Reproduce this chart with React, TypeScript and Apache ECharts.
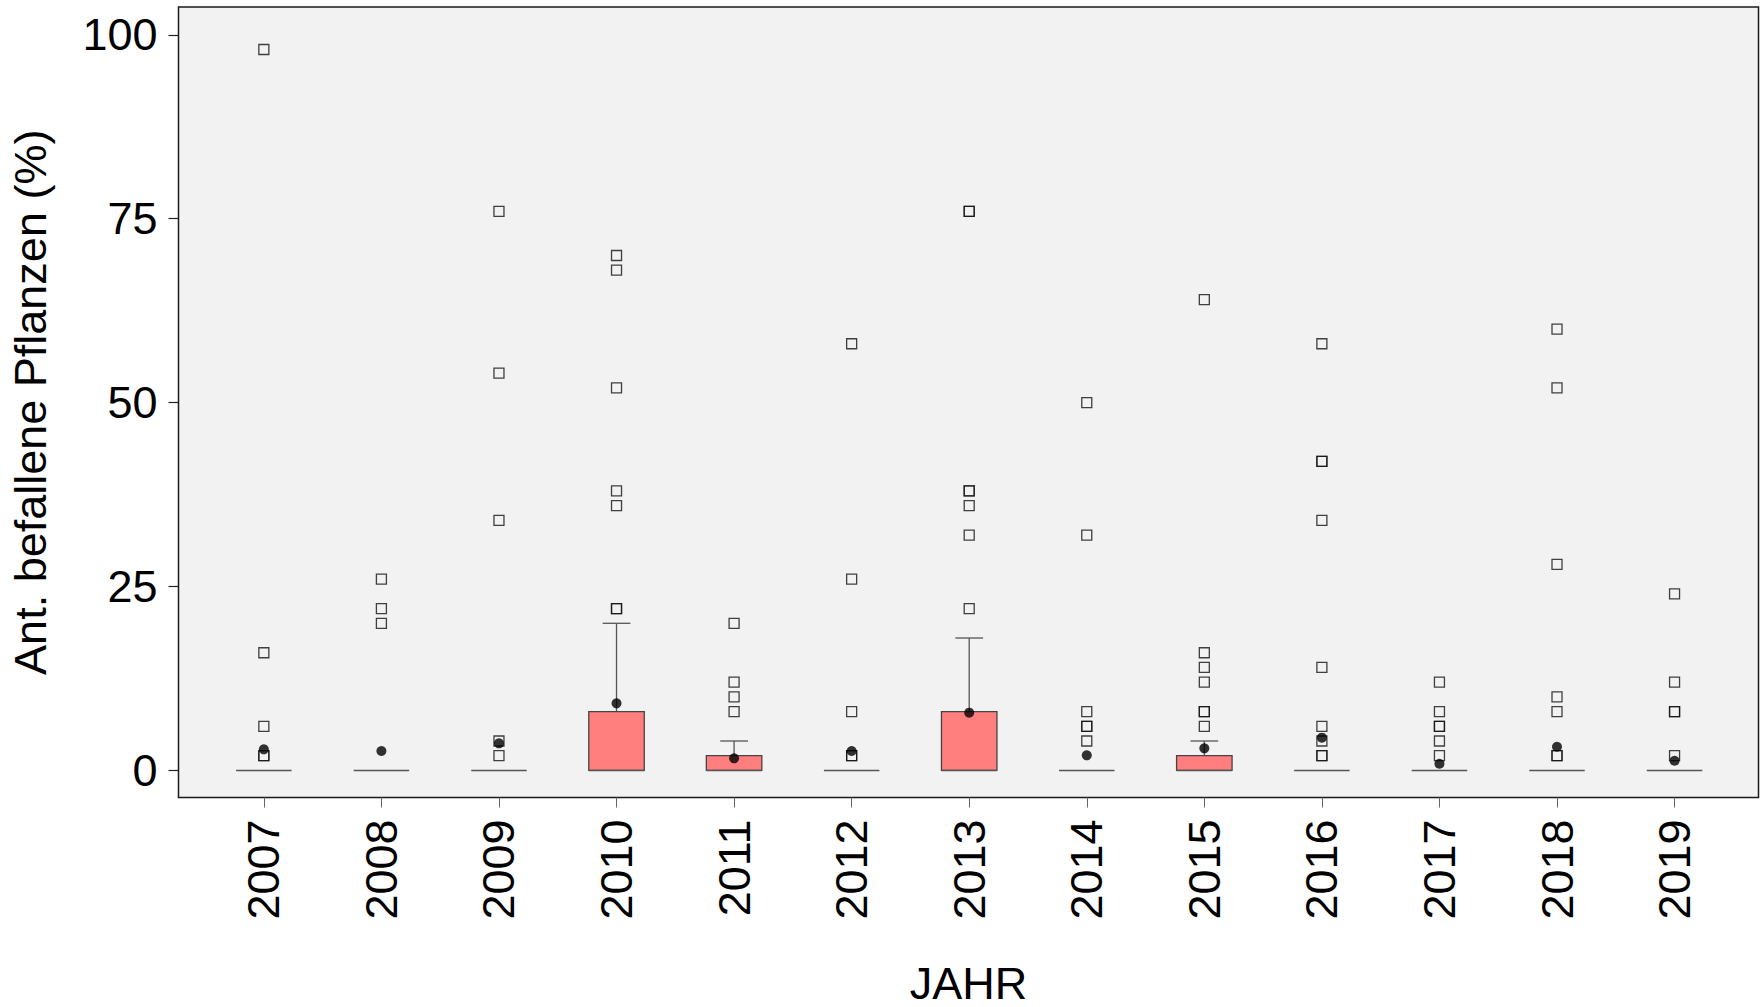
import React, { useEffect, useRef } from "react";
import * as echarts from "echarts";

const YEARS = ["2007", "2008", "2009", "2010", "2011", "2012", "2013", "2014", "2015", "2016", "2017", "2018", "2019"];

// [lower whisker, Q1, median, Q3, upper whisker]
const BOX_STATS: number[][] = [
  [0, 0, 0, 0, 0],
  [0, 0, 0, 0, 0],
  [0, 0, 0, 0, 0],
  [0, 0, 0, 8, 20],
  [0, 0, 0, 2, 4],
  [0, 0, 0, 0, 0],
  [0, 0, 0, 8, 18],
  [0, 0, 0, 0, 0],
  [0, 0, 0, 2, 4],
  [0, 0, 0, 0, 0],
  [0, 0, 0, 0, 0],
  [0, 0, 0, 0, 0],
  [0, 0, 0, 0, 0],
];

const MEANS = [2.87, 2.64, 3.68, 9.12, 1.64, 2.64, 7.85, 2.05, 3.0, 4.45, 0.91, 3.22, 1.32];

const OUTLIERS: number[][] = [
  [98, 16, 6, 2, 2],
  [26, 22, 20],
  [76, 54, 34, 4, 2],
  [70, 68, 52, 38, 36, 22, 22],
  [20, 12, 10, 8],
  [58, 26, 8, 2, 2],
  [76, 76, 38, 38, 36, 32, 22],
  [50, 32, 8, 6, 6, 4],
  [64, 16, 14, 12, 8, 8, 6],
  [58, 42, 42, 34, 14, 6, 4, 2, 2],
  [12, 8, 6, 6, 4, 2],
  [60, 52, 28, 10, 8, 2, 2],
  [24, 12, 8, 8, 2],
];

const Y_TICKS = [0, 25, 50, 75, 100];

const FONT = "'Liberation Sans', Arial, Helvetica, sans-serif";
const BOX_W = 0.472;

export default function App() {
  const ref = useRef<HTMLDivElement>(null);

  useEffect(() => {
    if (!ref.current) return;
    const chart = echarts.init(ref.current, null, { renderer: "svg" });

    const boxData = BOX_STATS.map((s, i) => [i, ...s]);
    const outlierData: number[][] = [];
    OUTLIERS.forEach((arr, i) => arr.forEach((v) => outlierData.push([i, v])));
    const meanData = MEANS.map((m, i) => [i, m]);
    const xIdx = YEARS.map((_, i) => i);

    const option: any = {
      animation: false,
      backgroundColor: "#ffffff",
      grid: {
        left: 178.5,
        top: 7,
        right: 2.5,
        bottom: 209.5,
        outerBoundsMode: "none",
        containLabel: false,
        show: true,
        backgroundColor: "#f2f2f2",
        borderColor: "#1a1a1a",
        borderWidth: 1.5,
      },
      xAxis: {
        type: "value",
        min: -0.726,
        max: 12.714,
        name: "JAHR",
        nameLocation: "middle",
        nameGap: 163,
        nameTextStyle: { fontFamily: FONT, fontSize: 45, lineHeight: 45, color: "#000" },
        axisLine: { show: false, onZero: false },
        splitLine: { show: false },
        axisTick: {
          show: true,
          inside: false,
          length: 10,
          customValues: xIdx,
          lineStyle: { color: "#666", width: 1 },
        },
        axisLabel: {
          customValues: xIdx,
          rotate: 90,
          margin: 22,
          fontFamily: FONT,
          fontSize: 45,
          color: "#000",
          formatter: (v: number) => YEARS[Math.round(v)] ?? "",
        },
      },
      yAxis: {
        type: "value",
        min: -3.68,
        max: 103.78,
        name: "Ant. befallene Pflanzen (%)",
        nameLocation: "middle",
        nameRotate: 90,
        nameGap: 126,
        nameTextStyle: { fontFamily: FONT, fontSize: 45, color: "#000" },
        axisLine: { show: false, onZero: false },
        splitLine: { show: false },
        axisTick: {
          show: true,
          inside: false,
          length: 10,
          customValues: Y_TICKS,
          lineStyle: { color: "#222", width: 1.2 },
        },
        axisLabel: {
          customValues: Y_TICKS,
          margin: 21,
          fontFamily: FONT,
          fontSize: 45,
          color: "#000",
        },
      },
      series: [
        {
          type: "custom",
          data: boxData,
          encode: { x: 0, y: [1, 2, 3, 4, 5] },
          z: 2,
          renderItem: (params: any, api: any) => {
            const x = api.value(0);
            const lo = api.value(1);
            const q1 = api.value(2);
            const med = api.value(3);
            const q3 = api.value(4);
            const hi = api.value(5);
            const w = api.size([BOX_W, 0])[0];
            const capW = w / 2;
            const pLo = api.coord([x, lo]);
            const pQ1 = api.coord([x, q1]);
            const pMed = api.coord([x, med]);
            const pQ3 = api.coord([x, q3]);
            const pHi = api.coord([x, hi]);
            const cx = pMed[0];
            const lineStyle = { stroke: "#555", lineWidth: 1.3 };
            const children: any[] = [];
            if (hi > q3) {
              children.push({ type: "line", shape: { x1: cx, y1: pQ3[1], x2: cx, y2: pHi[1] }, style: lineStyle });
              children.push({ type: "line", shape: { x1: cx - capW / 2, y1: pHi[1], x2: cx + capW / 2, y2: pHi[1] }, style: lineStyle });
            }
            if (lo < q1) {
              children.push({ type: "line", shape: { x1: cx, y1: pQ1[1], x2: cx, y2: pLo[1] }, style: lineStyle });
              children.push({ type: "line", shape: { x1: cx - capW / 2, y1: pLo[1], x2: cx + capW / 2, y2: pLo[1] }, style: lineStyle });
            }
            if (q3 > q1) {
              children.push({
                type: "rect",
                shape: { x: cx - w / 2, y: pQ3[1], width: w, height: pQ1[1] - pQ3[1] },
                style: { fill: "#ff7f7f", stroke: "#444", lineWidth: 1.3 },
              });
            }
            children.push({
              type: "line",
              shape: { x1: cx - w / 2, y1: pMed[1], x2: cx + w / 2, y2: pMed[1] },
              style: { stroke: "#555", lineWidth: 1.5 },
            });
            return { type: "group", children };
          },
        },
        {
          type: "scatter",
          data: outlierData,
          symbol: "rect",
          symbolSize: 10,
          z: 3,
          itemStyle: { color: "rgba(0,0,0,0)", borderColor: "#111", borderWidth: 1.3 },
        },
        {
          type: "scatter",
          data: meanData,
          symbol: "circle",
          symbolSize: 10,
          z: 4,
          itemStyle: { color: "#000" },
        },
      ],
    };

    chart.setOption(option);
    return () => chart.dispose();
  }, []);

  return (
    <div
      ref={ref}
      style={{ position: "absolute", left: 0, top: 0, width: 1761, height: 1007, background: "#fff" }}
    />
  );
}
